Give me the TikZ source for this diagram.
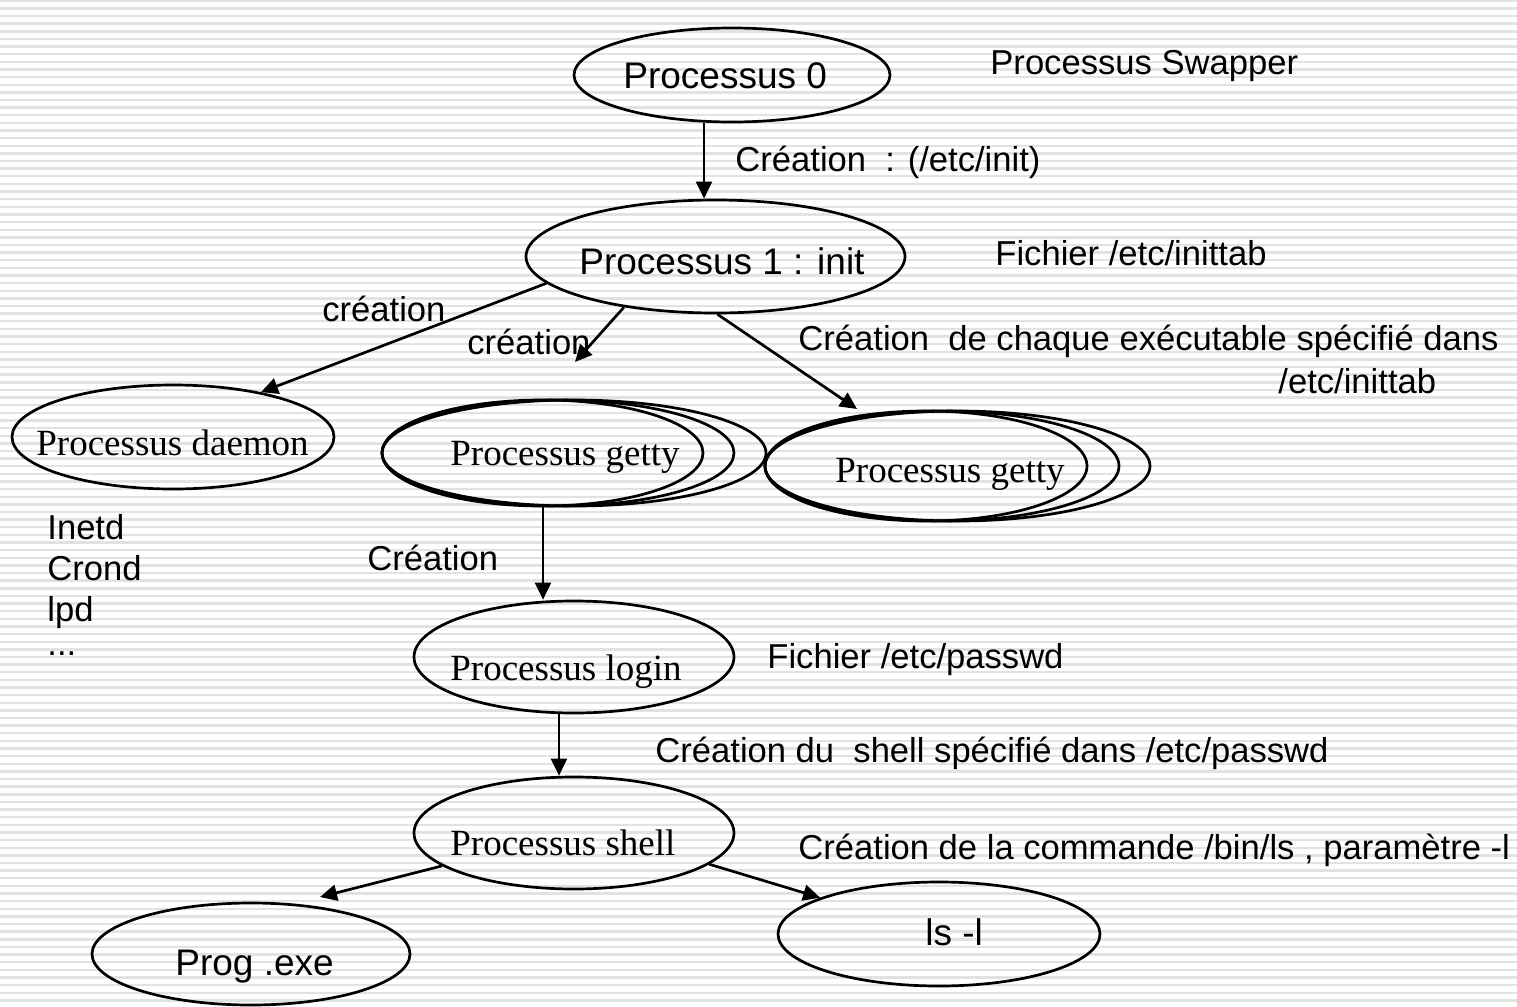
\documentclass[tikz,border=0pt]{standalone}
\usepackage{fontspec}
\setmainfont{Liberation Sans}
\newfontfamily\timesfont{Liberation Serif}
\usetikzlibrary{arrows.meta,shapes.geometric}

\begin{document}
\begin{tikzpicture}[x=0.5pt,y=-0.5pt,
  proc/.style={ellipse, draw, line width=1.35pt, inner sep=0pt},
  txt/.style={anchor=base west, inner sep=0pt, font=\fontsize{18.5pt}{22pt}\selectfont},
  note/.style={anchor=base west, inner sep=0pt, font=\fontsize{17.3pt}{21pt}\selectfont},
  serif/.style={anchor=base west, inner sep=0pt, font=\fontsize{18.5pt}{22pt}\selectfont\timesfont},
  arr/.style={line width=1.35pt, -{Triangle[length=8.5pt,width=8pt]}},
  stripe/.style={line width=1.2pt, draw={rgb,255:red,226;green,226;blue,226}}
]
% page and striped background
\useasboundingbox (0,0) rectangle (1517,1007);
\fill[white] (0,0) rectangle (1517,1007);
\foreach \i in {0,...,131} {
  \draw[stripe] (0,{\i*7.63+0.8}) -- (1517,{\i*7.63+0.8});
}

% process ellipses
\node[proc, minimum width=158pt, minimum height=47pt] (p0) at (732,75) {};
\node[proc, minimum width=189.5pt, minimum height=56.5pt] (p1) at (715.5,256.5) {};
\node[proc, minimum width=161pt, minimum height=52pt] (dm) at (173,437) {};
% getty stacks (three overlapping ellipses each)
\node[proc, minimum width=192pt, minimum height=53pt] (g1c) at (574,453) {};
\node[proc, minimum width=176pt, minimum height=53pt] (g1b) at (558,453) {};
\node[proc, minimum width=160.5pt, minimum height=53pt] (g1a) at (542.5,453) {};
\node[proc, minimum width=192.5pt, minimum height=55pt] (g2c) at (957.5,466) {};
\node[proc, minimum width=177pt, minimum height=55pt] (g2b) at (942,466) {};
\node[proc, minimum width=161pt, minimum height=55pt] (g2a) at (926,466) {};
\node[proc, minimum width=160pt, minimum height=56pt] (lg) at (574,657) {};
\node[proc, minimum width=160pt, minimum height=56pt] (sh) at (574,833) {};
\node[proc, minimum width=159pt, minimum height=51pt] (pe) at (251,954) {};
\node[proc, minimum width=161pt, minimum height=52pt] (ls) at (939,934) {};

% texts inside the ellipses
\node[txt] (p0t) at (623,88) {Processus 0};
\node[txt] (p1t) at (579,274) {Processus 1 : init};
\node[serif] (dmt) at (36,455) {Processus daemon};
\node[serif] (g1t) at (450,465) {Processus getty};
\node[serif] (g2t) at (835,482) {Processus getty};
\node[serif] (lgt) at (450,680) {Processus login};
\node[serif] (sht) at (450,855) {Processus shell};
\node[txt] (pet) at (175,975) {Prog .exe};
\node[txt] (lst) at (925,945) {ls -l};

% annotations
\node[note] (swp) at (990,74) {Processus Swapper};
\node[note] (cinit) at (735,171) {Création\ \ : (/etc/init)};
\node[note] (finit) at (995,265) {Fichier /etc/inittab};
\node[note] (cr1) at (322,321) {création};
\node[note] (cr2) at (467,354) {création};
\node[note] (cexe) at (798,350) {Création\ \ de chaque exécutable spécifié dans};
\node[note] (cexe2) at (1278,393) {/etc/inittab};
\node[note] (d1) at (47,539) {Inetd};
\node[note] (d2) at (47,580) {Crond};
\node[note] (d3) at (47,621) {lpd};
\node[note] (d4) at (47,655) {...};
\node[note] (crl) at (367,570) {Création};
\node[note] (fpw) at (767,668) {Fichier /etc/passwd};
\node[note] (csh) at (655,762) {Création du\ \ shell spécifié dans /etc/passwd};
\node[note] (cls) at (798,859) {Création de la commande /bin/ls , paramètre -l};

% connectors
\coordinate (x0) at (704,0);
\coordinate (x1) at (543,0);
\coordinate (x2) at (559,0);
\coordinate (g1tip) at (575,362);
\coordinate (g2tip) at (857,409);
\coordinate (petip) at (320,897);
\draw[arr] (p0.south -| x0) -- (p1.north -| x0);
\draw[arr] (p1.189) -- (dm.27);
\draw[arr] (p1.209) -- (g1tip);
\draw[arr] (p1.272) -- (g2tip);
\draw[arr] (g1a.south -| x1) -- (lg.north -| x1);
\draw[arr] (lg.south -| x2) -- (sh.north -| x2);
\draw[arr] (sh.194) -- (petip);
\draw[arr] (sh.347) -- (ls.163);
\end{tikzpicture}
\end{document}
